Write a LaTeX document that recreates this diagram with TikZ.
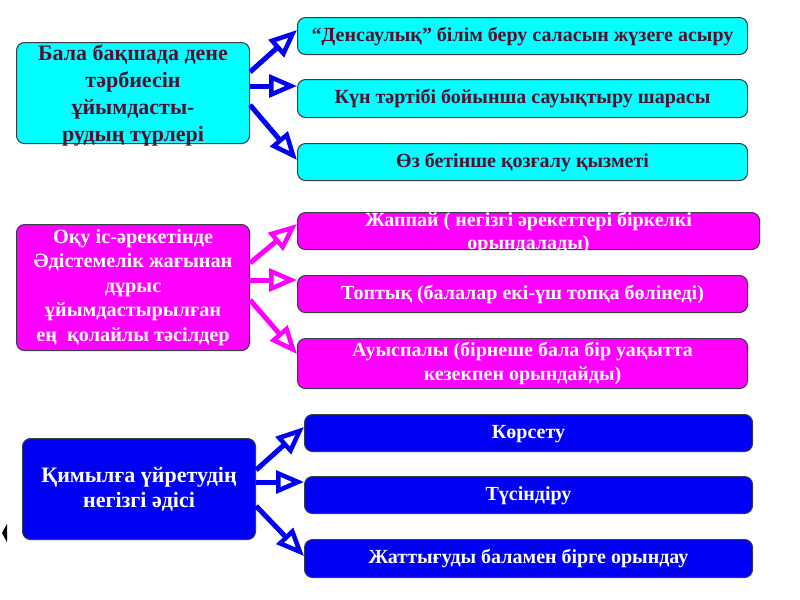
\documentclass[tikz,border=0pt]{standalone}
\usepackage{fontspec}
\setmainfont{Liberation Serif}
\usetikzlibrary{arrows.meta, calc}

\definecolor{boxcyan}{RGB}{0,255,255}
\definecolor{boxpink}{RGB}{255,0,255}
\definecolor{boxblue}{RGB}{0,0,245}
\definecolor{textplum}{RGB}{80,18,48}
\definecolor{edgegray}{RGB}{60,60,70}

\begin{document}
\begin{tikzpicture}[x=0.75pt, y=-0.75pt,
  box/.style={draw=edgegray, line width=0.8pt, rounded corners=6pt, inner sep=0pt, anchor=north west},
  lbl/.style={align=center, inner sep=0pt, font=\bfseries\fontsize{15}{20}\selectfont},
  arr/.style={line width=3.75pt, -{Triangle[open, length=21pt, width=17pt, line width=3.4pt]}}]
  \useasboundingbox (0,0) rectangle (800,600);

  % Group 1: kinds of organising
  \node[box, fill=boxcyan, minimum width=233*0.75pt, minimum height=101*0.75pt] (c0) at (16,42) {};
  \node[lbl, textplum, font=\bfseries\fontsize{16.5}{20.25}\selectfont] (c0t) at ($(c0)+(0,2)$)
    {Бала бақшада дене\\тәрбиесін\\ұйымдасты-\\рудың түрлері};

  \node[box, fill=boxcyan, minimum width=450*0.75pt, minimum height=37*0.75pt] (c1) at (297,17) {};
  \node[lbl, textplum] (c1t) at (c1) {“Денсаулық” білім беру саласын жүзеге асыру};
  \node[box, fill=boxcyan, minimum width=450*0.75pt, minimum height=38*0.75pt] (c2) at (297,79) {};
  \node[lbl, textplum] (c2t) at (c2) {Күн тәртібі бойынша сауықтыру шарасы};
  \node[box, fill=boxcyan, minimum width=450*0.75pt, minimum height=37*0.75pt] (c3) at (297,143) {};
  \node[lbl, textplum] (c3t) at (c3) {Өз бетінше қозғалу қызметі};

  \draw[arr, boxblue] ($(c0.north east)+(0,30)$) -- ($(c1.north west)+(0,13)$);
  \draw[arr, boxblue] ($(c0.north east)+(0,44)$) -- ($(c2.north west)+(0,7)$);
  \draw[arr, boxblue] ($(c0.north east)+(0,63)$) -- ($(c3.north west)+(0,17)$);

  % Group 2: methods
  \node[box, fill=boxpink, minimum width=233*0.75pt, minimum height=126*0.75pt] (m0) at (16,224) {};
  \node[lbl, white, font=\bfseries\fontsize{15.2}{18.4}\selectfont] (m0t) at (m0)
    {Оқу іс-әрекетінде\\Әдістемелік жағынан\\дұрыс\\ұйымдастырылған\\ең~~қолайлы тәсілдер};

  \node[box, fill=boxpink, minimum width=462*0.75pt, minimum height=37*0.75pt] (m1) at (297,212) {};
  \node[lbl, white, font=\bfseries\fontsize{15}{17}\selectfont] (m1t) at ($(m1)+(0,2)$)
    {Жаппай ( негізгі әрекеттері біркелкі\\орындалады)};
  \node[box, fill=boxpink, minimum width=450*0.75pt, minimum height=37*0.75pt] (m2) at (297,275) {};
  \node[lbl, white] (m2t) at (m2) {Топтық (балалар екі-үш топқа бөлінеді)};
  \node[box, fill=boxpink, minimum width=450*0.75pt, minimum height=50*0.75pt] (m3) at (297,338) {};
  \node[lbl, white, font=\bfseries\fontsize{15}{18}\selectfont] (m3t) at (m3)
    {Ауыспалы (бірнеше бала бір уақытта\\кезекпен орындайды)};

  \draw[arr, boxpink] ($(m0.north east)+(0,39)$) -- ($(m1.north west)+(0,12)$);
  \draw[arr, boxpink] ($(m0.north east)+(0,56)$) -- ($(m2.north west)+(0,5)$);
  \draw[arr, boxpink] ($(m0.north east)+(0,76)$) -- ($(m3.north west)+(0,16)$);

  % Group 3: basic method
  \node[box, fill=boxblue, minimum width=233*0.75pt, minimum height=101*0.75pt] (b0) at (22,438) {};
  \node[lbl, white, font=\bfseries\fontsize{16.5}{19}\selectfont] (b0t) at (b0)
    {Қимылға үйретудің\\негізгі әдісі};

  \node[box, fill=boxblue, minimum width=448*0.75pt, minimum height=37*0.75pt] (b1) at (304,414) {};
  \node[lbl, white] (b1t) at ($(b1)+(0,1)$) {Көрсету};
  \node[box, fill=boxblue, minimum width=448*0.75pt, minimum height=37*0.75pt] (b2) at (304,476) {};
  \node[lbl, white] (b2t) at ($(b2)+(0,1)$) {Түсіндіру};
  \node[box, fill=boxblue, minimum width=448*0.75pt, minimum height=38*0.75pt] (b3) at (304,539) {};
  \node[lbl, white] (b3t) at (b3) {Жаттығуды баламен бірге орындау};

  \draw[arr, boxblue] ($(b0.north east)+(0,32)$) -- ($(b1.north west)+(0,13)$);
  \draw[arr, boxblue] ($(b0.north east)+(0,44)$) -- ($(b2.north west)+(0,6)$);
  \draw[arr, boxblue] ($(b0.north east)+(0,68)$) -- ($(b3.north west)+(0,17)$);

  % stray mark at the left edge
  \fill[black] (7,524) -- (2,533) -- (7,542) -- cycle;
\end{tikzpicture}
\end{document}
